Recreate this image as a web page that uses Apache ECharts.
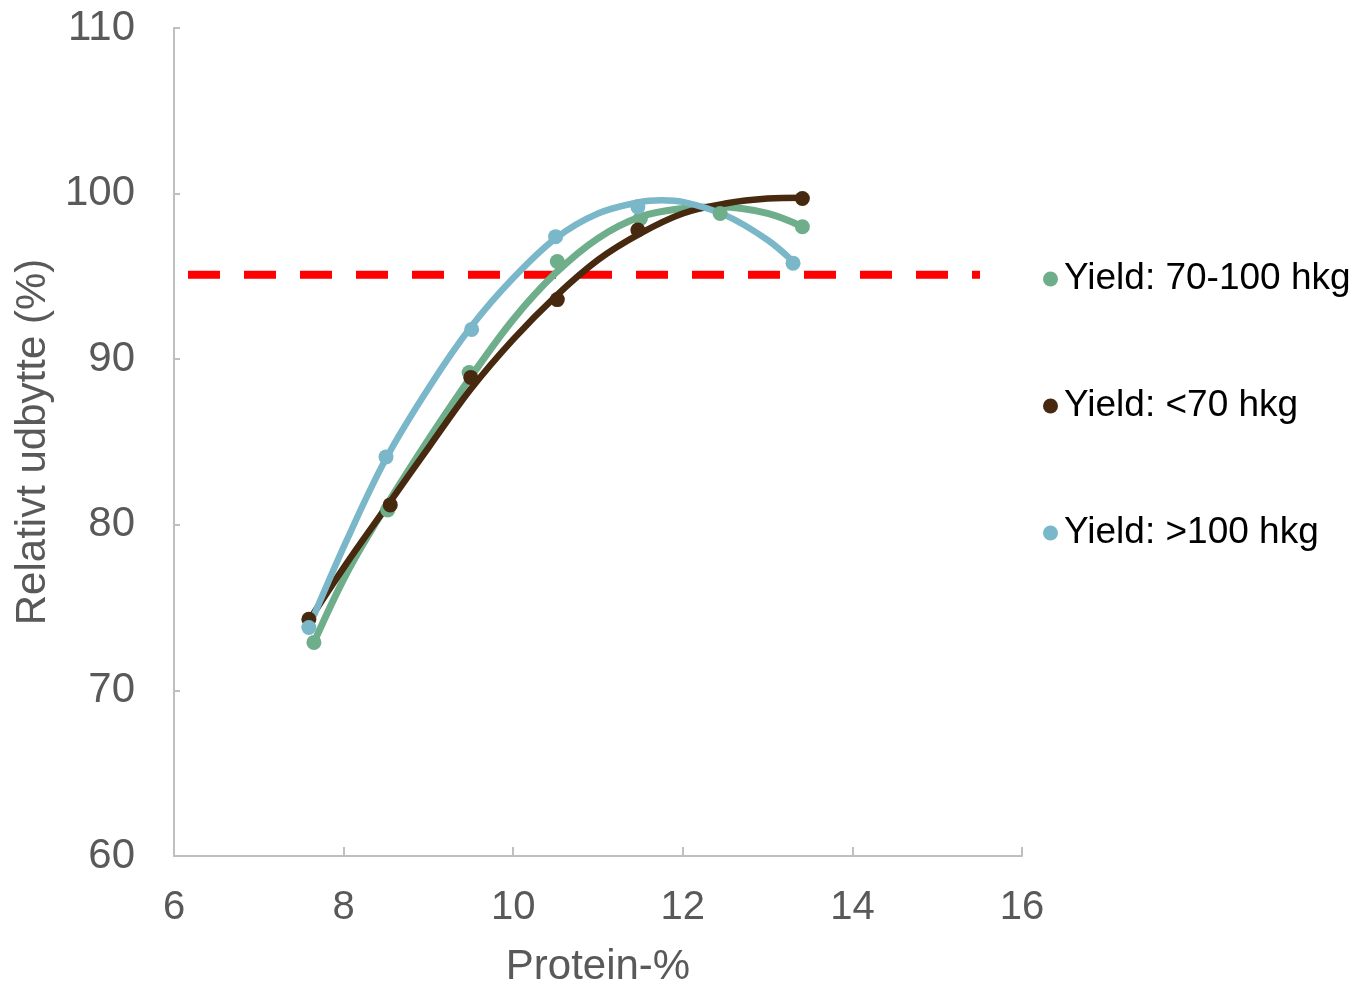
<!DOCTYPE html>
<html>
<head>
<meta charset="utf-8">
<script src="https://cdn.jsdelivr.net/npm/echarts@6/dist/echarts.min.js"></script>
<style>
html,body{margin:0;padding:0;background:#fff;overflow:hidden;}
#main{width:1360px;height:981px;}
</style>
</head>
<body>
<div id="main"></div>
<script>
// ---- Data ----
const seriesNames = ['Yield: 70-100 hkg', 'Yield: <70 hkg', 'Yield: >100 hkg'];

// observed points
const proteinMid = [7.65, 8.52, 9.48, 10.52, 11.5, 12.44, 13.41];
const yieldMid   = [72.9, 80.9, 89.2, 95.9, 98.5, 98.8, 98.0];

const proteinLow = [7.59, 8.55, 9.5, 10.52, 11.47, 13.41];
const yieldLow   = [74.3, 81.2, 88.9, 93.6, 97.8, 99.7];

const proteinHigh = [7.59, 8.5, 9.51, 10.5, 11.47, 13.3];
const yieldHigh   = [73.8, 84.1, 91.8, 97.4, 99.2, 95.8];

// trendline curves
const trendMidX = [7.65, 8.04, 8.51, 9.02, 9.51, 10.0, 10.5, 11.0, 11.5, 12.0, 12.44, 13.0, 13.41];
const trendMidY = [72.9, 77.1, 81.2, 85.3, 89.0, 92.4, 95.2, 97.3, 98.6, 99.1, 99.2, 98.8, 98.0];

const trendLowX = [7.59, 8.04, 8.55, 9.02, 9.5, 10.0, 10.5, 11.0, 11.5, 12.0, 12.5, 13.0, 13.41];
const trendLowY = [74.2, 77.7, 81.4, 84.8, 88.2, 91.2, 93.8, 96.0, 97.6, 98.8, 99.4, 99.7, 99.75];

const trendHighX = [7.59, 8.04, 8.5, 9.02, 9.51, 10.0, 10.5, 11.0, 11.5, 11.75, 12.0, 12.5, 13.0, 13.3];
const trendHighY = [73.8, 79.1, 84.0, 88.4, 92.0, 94.9, 97.3, 98.8, 99.5, 99.6, 99.5, 98.7, 97.2, 95.9];

// red threshold line
const thresholdX = [6.165, 15.505];
const thresholdY = [95.1, 95.1];

const xTicks = [6, 8, 10, 12, 14, 16];
const yTicks = [60, 70, 80, 90, 100, 110];

// ---- Styles ----
const colors = ['#6fae8a', '#47290f', '#7ab7c8'];
const font = 'Arial, "Liberation Sans", sans-serif';

function zip(xs, ys){ return xs.map((x,i)=>[x, ys[i]]); }

const chart = echarts.init(document.getElementById('main'), null, {renderer:'canvas', width:1360, height:981});

const trendSets = [[trendMidX, trendMidY, 7], [trendLowX, trendLowY, 6.5], [trendHighX, trendHighY, 6.5]];
const pointSets = [[proteinMid, yieldMid], [proteinLow, yieldLow], [proteinHigh, yieldHigh]];

const series = [];
series.push({
  name: 'threshold', type: 'line', data: zip(thresholdX, thresholdY),
  symbol: 'none', silent: true, z: 1,
  lineStyle: {color: '#ff0000', width: 8, type: [32, 24], cap: 'butt'}
});
trendSets.forEach((t, i) => {
  series.push({
    name: seriesNames[i] + ' trend', type: 'line', data: zip(t[0], t[1]),
    smooth: 0.35, symbol: 'none', z: 2 + i,
    lineStyle: {color: colors[i], width: t[2], cap: 'round'}
  });
});
pointSets.forEach((p, i) => {
  series.push({
    name: seriesNames[i], type: 'scatter', data: zip(p[0], p[1]),
    symbol: 'circle', symbolSize: 15, z: 6 + i,
    itemStyle: {color: colors[i], opacity: 1}
  });
});

chart.setOption({
  animation: false,
  backgroundColor: '#ffffff',
  grid: {left: 174, right: 338, top: 28, bottom: 125, containLabel: false, outerBoundsMode: 'none'},
  legend: {
    data: seriesNames.map((n, i) => ({name: n, icon: 'circle'})),
    orient: 'vertical', left: 1038, top: 254,
    itemWidth: 15, itemHeight: 15, itemGap: 87,
    textStyle: {color: '#000000', fontSize: 37, fontFamily: font, lineHeight: 40, padding: [0,0,0,1]},
    selectedMode: false
  },
  xAxis: {
    type: 'value', min: 6, max: 16, interval: 2,
    name: 'Protein-%', nameLocation: 'middle', nameGap: 90,
    nameTextStyle: {color: '#595959', fontSize: 42, fontFamily: font},
    axisLine: {show: true, onZero: false, lineStyle: {color: '#bfbfbf', width: 2}},
    axisTick: {show: true, inside: true, length: 9, lineStyle: {color: '#bfbfbf', width: 2}},
    axisLabel: {color: '#595959', fontSize: 40, fontFamily: font, margin: 32,
      formatter: v => xTicks.includes(v) ? String(v) : ''},
    splitLine: {show: false}
  },
  yAxis: {
    type: 'value', min: 60, max: 110, interval: 10,
    name: 'Relativt udbytte (%)', nameLocation: 'middle', nameGap: 116, nameRotate: 90,
    nameTextStyle: {color: '#595959', fontSize: 42, fontFamily: font},
    axisLine: {show: true, onZero: false, lineStyle: {color: '#bfbfbf', width: 2}},
    axisTick: {show: true, inside: true, length: 6, lineStyle: {color: '#bfbfbf', width: 2}},
    axisLabel: {color: '#595959', fontSize: 42, fontFamily: font, margin: 39,
      formatter: v => yTicks.includes(v) ? String(v) : ''},
    splitLine: {show: false}
  },
  series: series
});
</script>
</body>
</html>
